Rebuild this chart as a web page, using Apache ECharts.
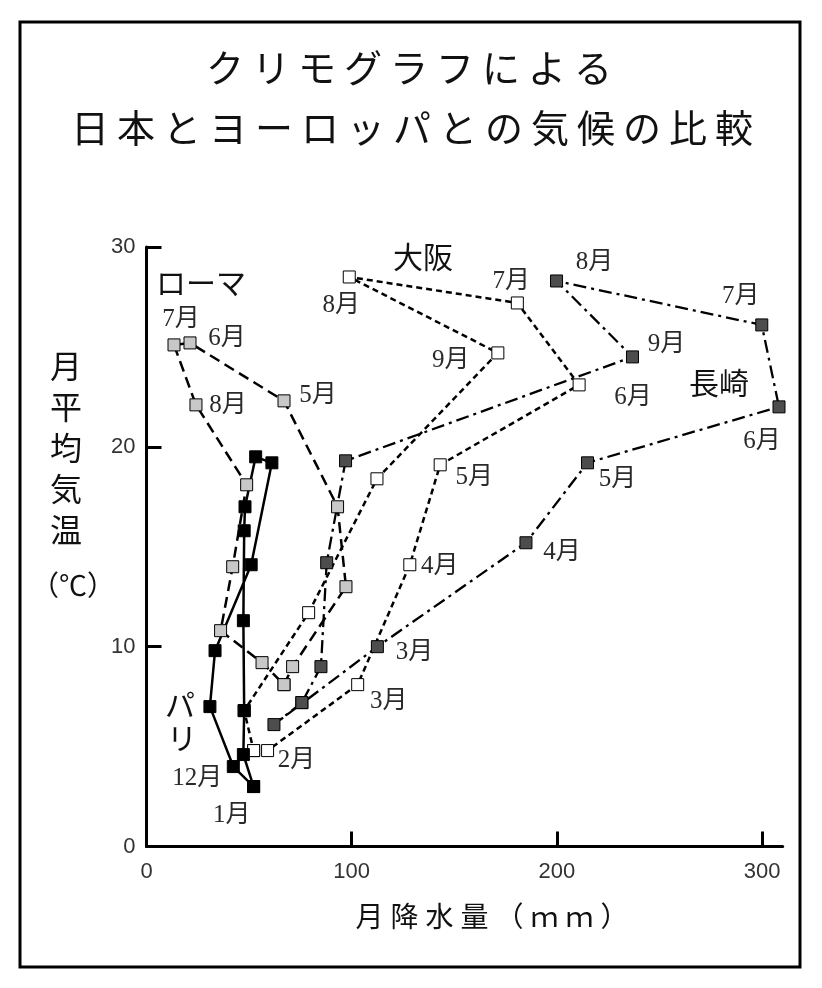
<!DOCTYPE html>
<html>
<head>
<meta charset="utf-8">
<script src="https://cdn.jsdelivr.net/npm/echarts@6/dist/echarts.min.js"></script>
<style>html,body{margin:0;padding:0;background:#fff}#c{width:822px;height:988px}</style>
</head>
<body>
<div id="c"></div>
<script>
// ---- data ----
const months = ['1月','2月','3月','4月','5月','6月','7月','8月','9月','10月','11月','12月'];
const xTicks = [0, 100, 200, 300];
const yTicks = [0, 10, 20, 30];

const romeRain = [67.0, 71.2, 97.2, 93.1, 67.0, 21.2, 13.4, 24.1, 48.8, 42.0, 36.1, 56.3];
const romeTemp = [8.1, 9.0, 13.0, 17.0, 22.3, 25.2, 25.1, 22.1, 18.1, 14.0, 10.8, 9.2];
const parisRain = [52.2, 47.2, 47.6, 47.2, 47.6, 48.0, 53.2, 61.1, 51.0, 33.4, 30.9, 42.3];
const parisTemp = [3.0, 4.6, 6.8, 11.3, 15.8, 17.0, 19.5, 19.2, 14.1, 9.8, 7.0, 4.0];
const osakaRain = [52.2, 59.0, 102.9, 128.3, 143.1, 210.8, 180.7, 98.8, 171.2, 112.3, 79.0, 47.6];
const osakaTemp = [4.8, 4.8, 8.1, 14.1, 19.1, 23.1, 27.2, 28.5, 24.7, 18.4, 11.7, 6.8];
const nagasakiRain = [75.7, 62.1, 112.5, 184.9, 214.9, 308.2, 299.8, 199.8, 236.8, 97.0, 87.8, 85.0];
const nagasakiTemp = [7.2, 6.1, 10.0, 15.2, 19.2, 22.0, 26.1, 28.3, 24.5, 19.3, 14.2, 9.0];

// which month labels are shown (index -> label offset in px)
const romeLabels = {4:[34,-5], 5:[37,-4], 6:[7,-25], 7:[32,1]};
const parisLabels = {11:[-36,12], 0:[-22,29]};
const osakaLabels = {1:[29,10], 2:[31,17], 3:[30,2], 4:[34,13], 5:[54,13], 6:[-6,-22], 7:[-8,28], 8:[-47,8]};
const nagasakiLabels = {2:[37,6], 3:[36,10], 4:[30,17], 5:[-17,35], 6:[-21,-28], 7:[38,-19], 8:[34,-12]};

const titleLine1 = 'クリモグラフによる';
const titleLine2 = '日本とヨーロッパとの気候の比較';
const xName = '月降水量（ｍｍ）';
const yName = '月平均気温';
const yUnit = '（℃）';

// ---- build ----
const monthFont = "'Liberation Serif','Noto Sans CJK JP',serif";
const sansJP = "'Noto Sans CJK JP','Noto Sans',sans-serif";

function buildData(rain, temp, labels) {
  const d = rain.map((r, i) => {
    const item = { value: [r, temp[i]] };
    if (labels[i]) {
      item.label = { show: true, formatter: months[i], offset: labels[i] };
    }
    return item;
  });
  d.push({ value: [rain[0], temp[0]] }); // close the loop
  return d;
}

function makeSeries(name, rain, temp, labels, fill, lineType, width) {
  return {
    name, type: 'line', data: buildData(rain, temp, labels),
    symbol: 'rect', symbolSize: 12, showAllSymbol: true,
    itemStyle: { color: fill, borderColor: '#000', borderWidth: 1 },
    lineStyle: { color: '#000', width: width, type: lineType },
    label: { show: false, position: 'inside', color: '#2a2a2a', fontSize: 25, fontFamily: monthFont,
             align: 'center', verticalAlign: 'middle' },
    emphasis: { disabled: true },
    animation: false
  };
}

const graphics = [];
graphics.push({ type: 'rect', shape: { x: 20, y: 22, width: 780, height: 945 },
  style: { fill: 'none', stroke: '#000', lineWidth: 3 }, z: 100 });

function spacedText(str, cx, cy, pitch, size, family) {
  const n = str.length;
  const start = cx - pitch * (n - 1) / 2;
  for (let i = 0; i < n; i++) {
    graphics.push({ type: 'text', style: { text: str[i], x: start + i * pitch, y: cy,
      fill: '#111', font: size + 'px ' + family, textAlign: 'center', textVerticalAlign: 'middle' }, z: 100 });
  }
}
spacedText(titleLine1, 409, 68, 46, 38, sansJP);
spacedText(titleLine2, 412, 128, 46, 38, sansJP);
spacedText(xName, 492, 916, 35, 28, sansJP);
// vertical y name
for (let i = 0; i < yName.length; i++) {
  graphics.push({ type: 'text', style: { text: yName[i], x: 66, y: 366 + i * 41,
    fill: '#111', font: '32px ' + sansJP, textAlign: 'center', textVerticalAlign: 'middle' }, z: 100 });
}
graphics.push({ type: 'text', style: { text: yUnit, x: 73, y: 585, fill: '#111',
  font: '28px ' + sansJP, textAlign: 'center', textVerticalAlign: 'middle' }, z: 100 });

// city names
const cityText = [['ローマ', 201, 283], ['大阪', 423, 257], ['長崎', 719, 383], ['パ', 180, 705], ['リ', 182, 738]];
cityText.forEach(c => graphics.push({ type: 'text', style: { text: c[0], x: c[1], y: c[2], fill: '#111',
  font: '30px ' + sansJP, textAlign: 'center', textVerticalAlign: 'middle' }, z: 100 }));

const chart = echarts.init(document.getElementById('c'), null, { renderer: 'canvas' });
chart.setOption({
  animation: false,
  backgroundColor: '#fff',
  grid: { left: 146.5, top: 247, right: 39.3, bottom: 141.5, containLabel: false, outerBoundsMode: 'none' },
  xAxis: {
    type: 'value', min: 0, max: 310, interval: 100,
    axisLine: { show: true, lineStyle: { color: '#000', width: 3 } },
    axisTick: { show: true, inside: true, length: 15, lineStyle: { color: '#000', width: 3 }, customValues: xTicks },
    axisLabel: { show: true, customValues: xTicks, color: '#333', fontSize: 22, margin: 14,
                 fontFamily: "'Liberation Sans',sans-serif" },
    splitLine: { show: false }
  },
  yAxis: {
    type: 'value', min: 0, max: 30, interval: 10,
    axisLine: { show: true, lineStyle: { color: '#000', width: 3 } },
    axisTick: { show: true, inside: true, length: 15, lineStyle: { color: '#000', width: 3 }, customValues: yTicks },
    axisLabel: { show: true, customValues: yTicks, color: '#333', fontSize: 22, margin: 11,
                 fontFamily: "'Liberation Sans',sans-serif" },
    splitLine: { show: false }
  },
  series: [
    makeSeries('長崎', nagasakiRain, nagasakiTemp, nagasakiLabels, '#4d4d4d', [13, 5, 3, 5], 2.3),
    makeSeries('大阪', osakaRain, osakaTemp, osakaLabels, '#ffffff', [6, 4], 2.5),
    makeSeries('ローマ', romeRain, romeTemp, romeLabels, '#c8c8c8', [11, 6], 2.5),
    makeSeries('パリ', parisRain, parisTemp, parisLabels, '#000000', 'solid', 2.5)
  ],
  graphic: graphics
});
</script>
</body>
</html>
